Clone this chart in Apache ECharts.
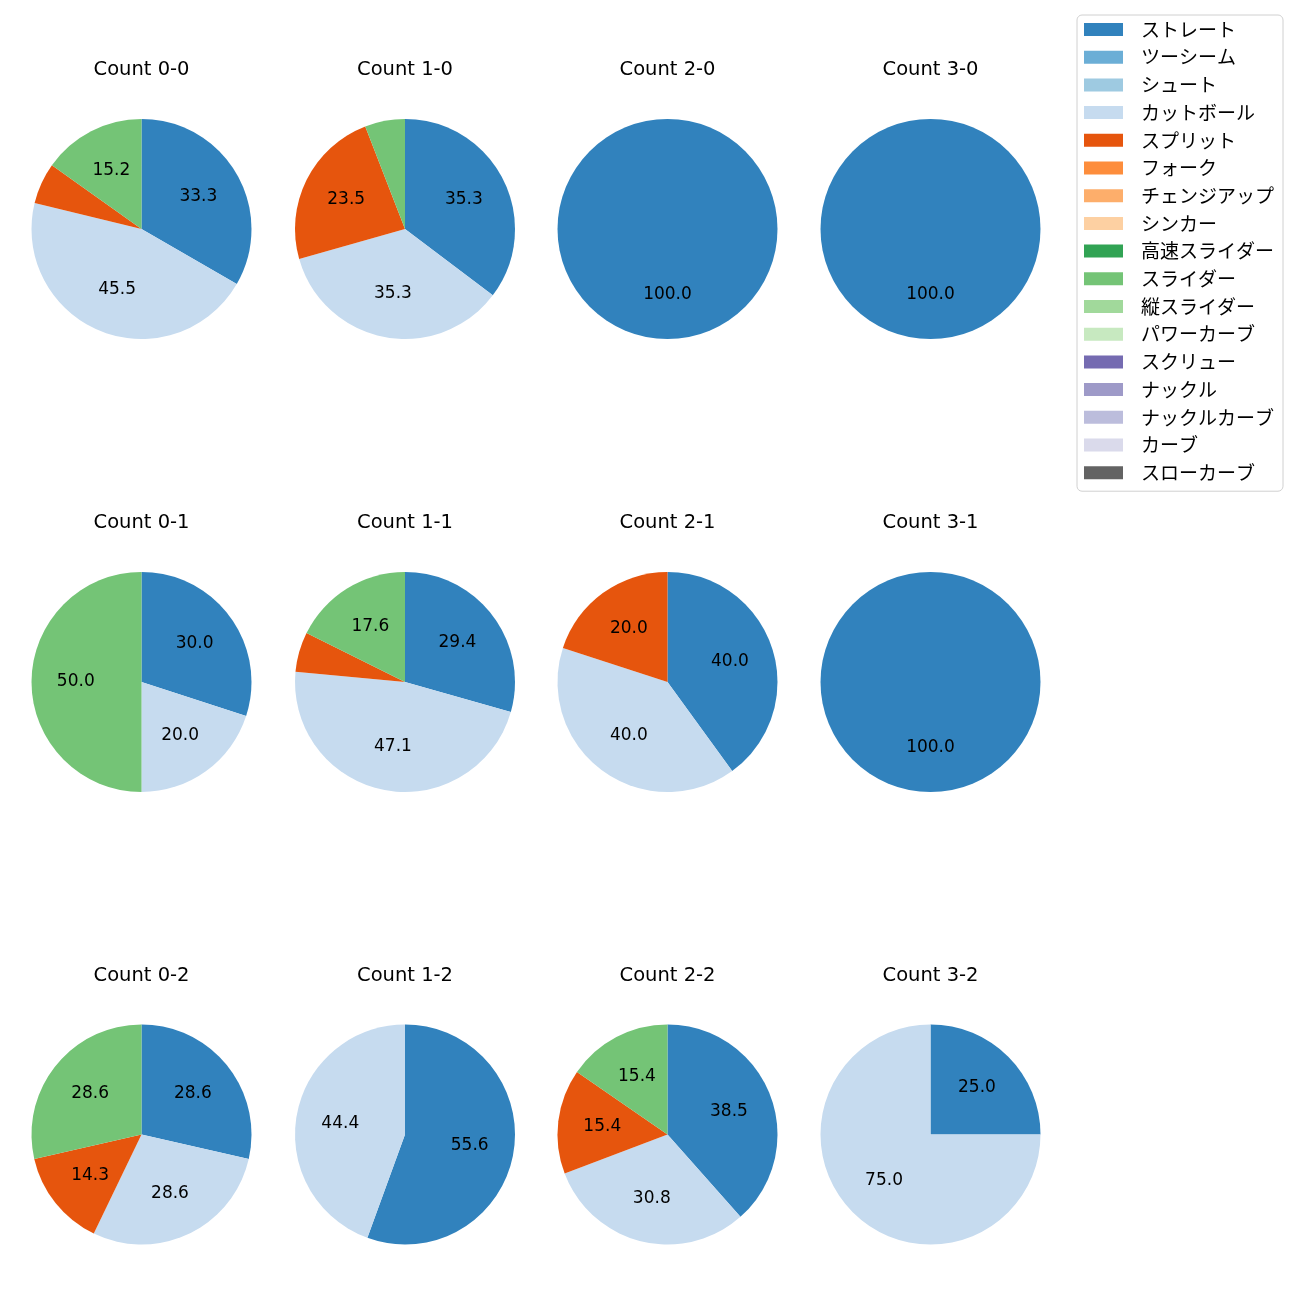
<!DOCTYPE html>
<html>
<head>
<meta charset="utf-8">
<script src="https://cdn.jsdelivr.net/npm/echarts@6/dist/echarts.min.js"></script>
<style>
html,body{margin:0;padding:0;background:#fff;}
#main{width:1300px;height:1300px;}
</style>
</head>
<body>
<div id="main"></div>
<script>
// Pitch types (legend order)
const pitchTypes = ['ストレート','ツーシーム','シュート','カットボール','スプリット','フォーク','チェンジアップ','シンカー','高速スライダー','スライダー','縦スライダー','パワーカーブ','スクリュー','ナックル','ナックルカーブ','カーブ','スローカーブ'];
const pitchColors = ['#3182bd','#6baed6','#9ecae1','#c6dbef','#e6550d','#fd8d3c','#fdae6b','#fdd0a2','#31a354','#74c476','#a1d99b','#c7e9c0','#756bb1','#9e9ac8','#bcbddc','#dadaeb','#636363'];

// Count titles, row by row
const countTitles = ['Count 0-0','Count 1-0','Count 2-0','Count 3-0','Count 0-1','Count 1-1','Count 2-1','Count 3-1','Count 0-2','Count 1-2','Count 2-2','Count 3-2'];

// Pitch counts per count: [ストレート, カットボール, スプリット, スライダー]
const shownTypes = ['ストレート','カットボール','スプリット','スライダー'];
const count00 = [11, 15, 2, 5];
const count10 = [6, 6, 4, 1];
const count20 = [1, 0, 0, 0];
const count30 = [1, 0, 0, 0];
const count01 = [3, 2, 0, 5];
const count11 = [5, 8, 1, 3];
const count21 = [2, 2, 1, 0];
const count31 = [1, 0, 0, 0];
const count02 = [2, 2, 1, 2];
const count12 = [5, 4, 0, 0];
const count22 = [5, 4, 2, 2];
const count32 = [1, 3, 0, 0];
const countValues = [count00,count10,count20,count30,count01,count11,count21,count31,count02,count12,count22,count32];

const colCenters = [141.5, 405, 667.5, 930.5];
const rowCenters = [229, 682, 1134.5];
const R = 110;
const LATIN = '"DejaVu Sans", sans-serif';
const JP = '"Noto Sans CJK JP", sans-serif';

function fullData(vals) {
  return pitchTypes.map(function (name) {
    const i = shownTypes.indexOf(name);
    return { name: name, value: i >= 0 ? vals[i] : 0 };
  });
}

const series = [];
const titles = [];
countValues.forEach(function (vals, k) {
  const cx = colCenters[k % 4], cy = rowCenters[Math.floor(k / 4)];
  titles.push({
    text: countTitles[k], left: cx, top: cy - R - 59, textAlign: 'center', padding: 0,
    textStyle: { fontFamily: LATIN, fontSize: 19.5, fontWeight: 'normal', color: '#000', lineHeight: 20 }
  });
  series.push({
    type: 'pie', center: [cx, cy], radius: [0, R], startAngle: 90, clockwise: true,
    minAngle: 0, avoidLabelOverlap: false, silent: true, animation: false,
    itemStyle: { borderWidth: 0 },
    label: { show: false }, labelLine: { show: false },
    data: fullData(vals)
  });
  // label carrier: transparent larger pie so "inside" labels sit near 0.6 R
  series.push({
    type: 'pie', center: [cx, cy], radius: [0, R * 1.14], startAngle: 90, clockwise: true,
    minAngle: 0, avoidLabelOverlap: false, silent: true, animation: false,
    itemStyle: { color: 'rgba(0,0,0,0)', borderWidth: 0 },
    label: {
      show: true, position: 'inside', fontFamily: LATIN, fontSize: 17, color: '#000',
      formatter: function (p) { return p.percent >= 10 ? p.percent.toFixed(1) : ''; }
    },
    labelLine: { show: false },
    data: fullData(vals)
  });
});

const chart = echarts.init(document.getElementById('main'), null, { renderer: 'canvas' });
chart.setOption({
  animation: false,
  color: pitchColors,
  title: titles,
  legend: {
    orient: 'vertical', left: 1077, top: 15,
    data: pitchTypes,
    itemWidth: 39, itemHeight: 13, itemGap: 8.7,
    padding: [5, 9, 9, 7],
    borderColor: '#d0d0d0', borderWidth: 1, borderRadius: 5,
    backgroundColor: '#fff',
    icon: 'rect',
    selectedMode: false,
    textStyle: { fontFamily: JP, fontSize: 19, color: '#000', padding: [0, 0, 0, 13] }
  },
  series: series
});
</script>
</body>
</html>
